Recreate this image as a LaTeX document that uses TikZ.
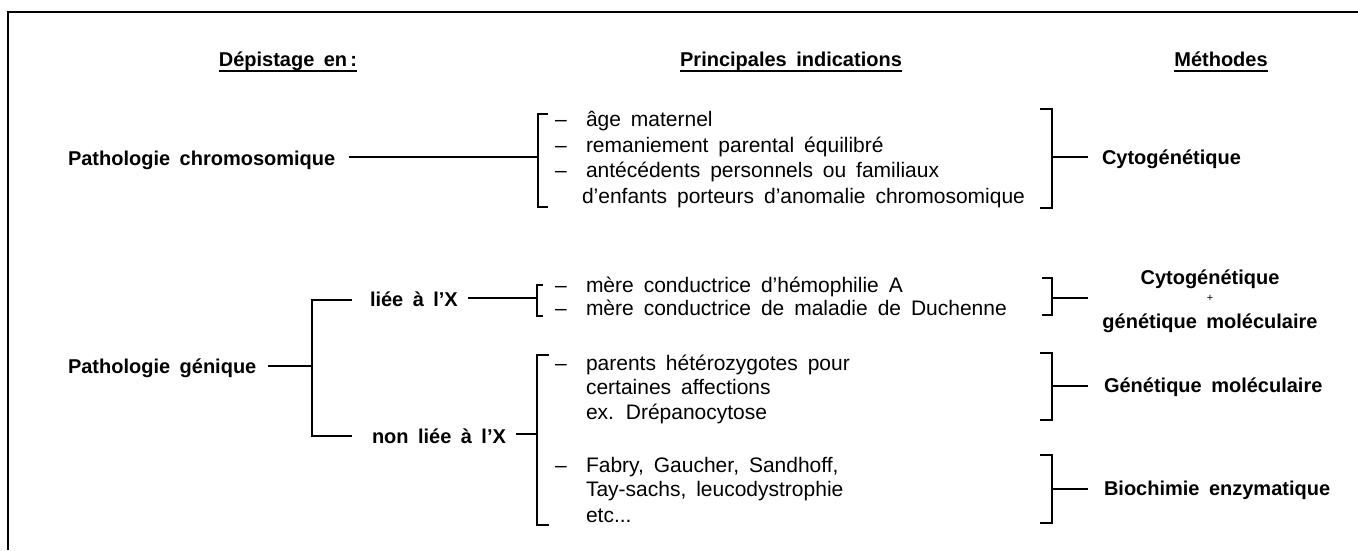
\documentclass[tikz,border=0pt]{standalone}
\usepackage{fontspec}
\setmainfont{Liberation Sans}[WordSpace=1.7]
\begin{document}
\begin{tikzpicture}[x=1pt,y=-1pt,
  every node/.style={inner sep=0pt,outer sep=0pt},
  bold/.style={font=\bfseries\fontsize{20}{23}\selectfont},
  head/.style={bold,anchor=base},
  lbl/.style={bold,anchor=base west},
  txt/.style={font=\fontsize{21}{24}\selectfont,anchor=base west},
  ln/.style={line width=1.7pt,line cap=butt},
  brk/.style={line width=1.7pt,line join=miter}]
\useasboundingbox (0,0) rectangle (1358,550);
% frame (top and left only)
\draw[line width=1.7pt] (8,550) -- (8,12) -- (1358,12);

% headers
\node[head] (h1) at (288,66) {Dépistage en\,:};
\node[head] (h2) at (791,66) {Principales indications};
\node[head] (h3) at (1221,66) {Méthodes};
\foreach \h in {h1,h2,h3}
  \draw[line width=1.4pt] ([yshift=-5pt]\h.base west) -- ([yshift=-5pt]\h.base east);

% ---------- row 1
\node[lbl] (pc) at (68,165) {Pathologie chromosomique};
\coordinate (b1l) at (538,157);
\draw[brk] (548,114) -- (538,114) -- (538,207) -- (548,207);
\draw[ln] ([xshift=14pt]pc.east |- b1l) -- (b1l);
\node[txt] (t11) at (555,126) {\makebox[31pt][l]{–}âge maternel};
\node[txt] (t12) at (555,152) {\makebox[31pt][l]{–}remaniement parental équilibré};
\node[txt] (t13) at (555,177) {\makebox[31pt][l]{–}antécédents personnels ou familiaux};
\node[txt] (t14) at (582,203) {d’enfants porteurs d’anomalie chromosomique};
\draw[brk] (1040,109) -- (1052,109) -- (1052,208) -- (1040,208);
\coordinate (b1r) at (1052,157);
\node[lbl] (m1) at (1102,164) {Cytogénétique};
\draw[ln] (b1r) -- ([xshift=-14pt]m1.west |- b1r);

% ---------- row 2
\node[lbl] (pg) at (68,373) {Pathologie génique};
\coordinate (j) at (312,366);
\draw[ln] ([xshift=12pt]pg.east |- j) -- (j);
\node[lbl] (lx) at (370,306) {liée à l’X};
\node[lbl] (nlx) at (372,443) {non liée à l’X};
\coordinate (lxs) at (352,300);
\coordinate (nlxs) at (352,436);
\draw[ln] (lxs) -| (j) |- (nlxs);

% liée à l'X
\coordinate (b2l) at (537,298);
\draw[brk] (543,285) -- (537,285) -- (537,316) -- (543,316);
\draw[ln] ([xshift=10pt]lx.east |- b2l) -- (b2l);
\node[txt] (t21) at (555,292) {\makebox[31pt][l]{–}mère conductrice d’hémophilie A};
\node[txt] (t22) at (555,315) {\makebox[31pt][l]{–}mère conductrice de maladie de Duchenne};
\draw[brk] (1042,278) -- (1052,278) -- (1052,315) -- (1042,315);
\coordinate (b2r) at (1052,298);
\node[head] (m2a) at (1210,284) {Cytogénétique};
\node[font=\fontsize{11}{12}\selectfont] (m2p) at (1210,298) {+};
\node[head] (m2b) at (1210,328) {génétique moléculaire};
\draw[ln] (b2r) -- (1088,298);

% non liée à l'X
\coordinate (b3l) at (537,434);
\draw[brk] (549,355) -- (537,355) -- (537,525) -- (549,525);
\draw[ln] ([xshift=10pt]nlx.east |- b3l) -- (b3l);
\node[txt] (t31) at (555,370) {\makebox[31pt][l]{–}parents hétérozygotes pour};
\node[txt] (t32) at (586,394) {certaines affections};
\node[txt] (t33) at (586,419) {ex. Drépanocytose};
\node[txt] (t34) at (555,472) {\makebox[31pt][l]{–}Fabry, Gaucher, Sandhoff,};
\node[txt] (t35) at (586,496) {Tay-sachs, leucodystrophie};
\node[txt] (t36) at (586,522) {etc...};

\draw[brk] (1040,353) -- (1052,353) -- (1052,420) -- (1040,420);
\coordinate (b3ar) at (1052,386);
\node[lbl] (m3a) at (1104,392) {Génétique moléculaire};
\draw[ln] (b3ar) -- ([xshift=-16pt]m3a.west |- b3ar);

\draw[brk] (1040,455) -- (1052,455) -- (1052,523) -- (1040,523);
\coordinate (b3br) at (1052,489);
\node[lbl] (m3b) at (1104,495) {Biochimie enzymatique};
\draw[ln] (b3br) -- ([xshift=-16pt]m3b.west |- b3br);
\end{tikzpicture}
\end{document}
